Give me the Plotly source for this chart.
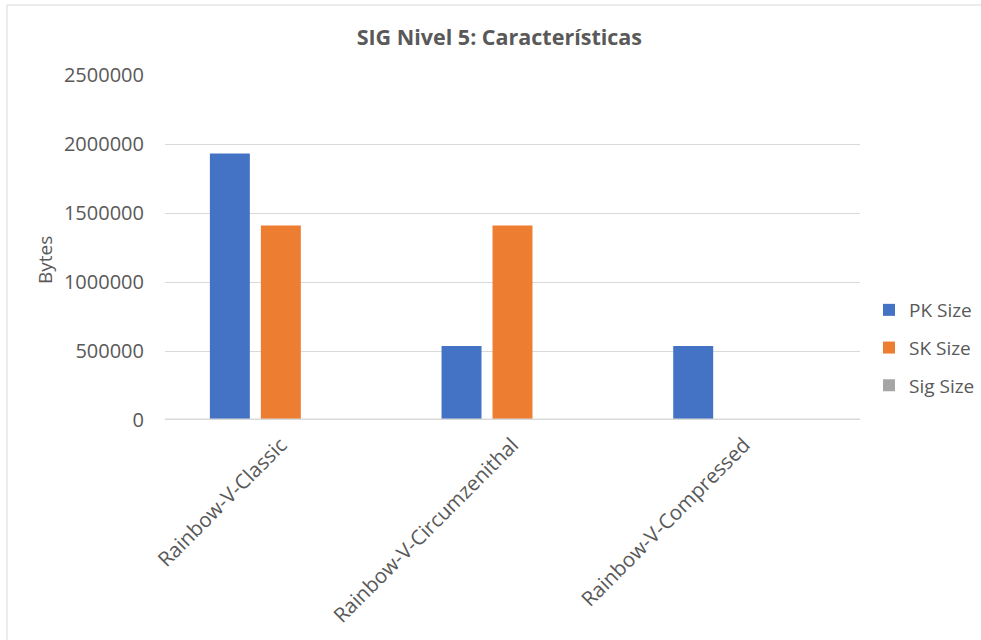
import plotly.graph_objects as go

categories = ["Rainbow-V-Classic", "Rainbow-V-Circumzenithal", "Rainbow-V-Compressed"]
pk_size = [1930600, 536136, 536136]
sk_size = [1408736, 1408736, 64]
sig_size = [204, 204, 204]
y_ticks = [0, 500000, 1000000, 1500000, 2000000, 2500000]

FONT = "Open Sans"
TXT = "#595959"
GRID = "#d9d9d9"

fig = go.Figure()
series = [
    ("PK Size", pk_size, "#4472c4"),
    ("SK Size", sk_size, "#ed7d31"),
    ("Sig Size", sig_size, "#a5a5a5"),
]
for i, (name, vals, col) in enumerate(series):
    fig.add_trace(go.Bar(
        x=categories, y=vals, name=name, marker_color=col,
        marker_line_width=0, legendgroup=str(i),
    ))

L, R, T, B = 165, 121, 75, 220
W, H = 981, 640
pw, ph = W - L - R, H - T - B

fig.update_layout(
    width=W, height=H,
    margin=dict(l=L, r=R, t=T, b=B, pad=0, autoexpand=False),
    paper_bgcolor="white", plot_bgcolor="white",
    barmode="group", bargap=0.34, bargroupgap=0.216,
    font=dict(family=FONT, color=TXT, size=19),
    title=dict(text="<b>SIG Nivel 5: Características</b>", x=0.509, xanchor="center",
               y=1 - 37 / H, yanchor="middle",
               font=dict(family=FONT, size=21.5, color=TXT)),
    legend=dict(x=(869 - L) / pw, y=(420 - 291) / ph, xanchor="left", yanchor="top",
                font=dict(family=FONT, size=19, color=TXT),
                tracegroupgap=10, itemwidth=30, traceorder="grouped",
                bgcolor="rgba(0,0,0,0)"),
    xaxis=dict(showgrid=False, showline=False,
               tickangle=-45, tickfont=dict(family=FONT, size=20.5, color=TXT),
               ticks="", ticklabelstandoff=8),
    yaxis=dict(range=[0, 2500000], tickvals=y_ticks, tickformat="d",
               showgrid=True, gridcolor=GRID, gridwidth=1, zeroline=False,
               showline=False, ticks="", ticklabelstandoff=20,
               tickfont=dict(family=FONT, size=20, color=TXT)),
    showlegend=True,
    annotations=[dict(text="Bytes", x=(45 - L) / pw, y=(420 - 260) / ph,
                      xref="paper", yref="paper", showarrow=False, textangle=-90,
                      xanchor="center", yanchor="middle",
                      font=dict(family=FONT, size=19, color=TXT))],
    shapes=[
        # category axis baseline
        dict(type="line", xref="paper", yref="y", layer="above",
             x0=0, x1=1, y0=0, y1=0, line=dict(color=GRID, width=3)),
        # chart frame
        dict(type="line", xref="paper", yref="paper",
             x0=(7 - L) / pw, x1=(7 - L) / pw, y0=(420 - 5) / ph, y1=(420 - 700) / ph,
             line=dict(color=GRID, width=1)),
        dict(type="line", xref="paper", yref="paper",
             x0=(7 - L) / pw, x1=(1000 - L) / pw, y0=(420 - 5) / ph, y1=(420 - 5) / ph,
             line=dict(color=GRID, width=1)),
    ],
)

fig.write_html("out.html")
